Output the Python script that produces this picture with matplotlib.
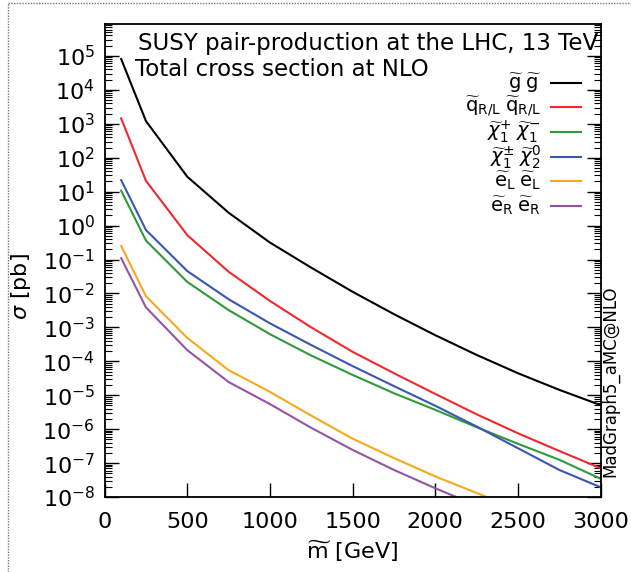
import numpy as np
import matplotlib
matplotlib.use("Agg")
import matplotlib.pyplot as plt
from matplotlib.ticker import LogLocator, NullFormatter, FixedLocator
from matplotlib.lines import Line2D

plt.rcParams['font.family'] = ['DejaVu Sans']
plt.rcParams['mathtext.fontset'] = 'dejavusans'

# masses in GeV
masses = [100, 250, 500, 750, 1000, 1250, 1500, 1750, 2000, 2250, 2500, 2750, 3000]

# log10(sigma / pb)
log_gg = [4.91, 3.08, 1.44, 0.38, -0.50, -1.24, -1.95, -2.61, -3.23, -3.81, -4.35, -4.84, -5.29]
log_qq = [3.16, 1.32, -0.28, -1.36, -2.22, -3.00, -3.72, -4.35, -4.96, -5.56, -6.12, -6.64, -7.15]
log_c1c1 = [1.03, -0.44, -1.66, -2.49, -3.20, -3.83, -4.40, -4.94, -5.43, -5.94, -6.43, -6.90, -7.46]
log_c1n2 = [1.34, -0.13, -1.34, -2.17, -2.88, -3.52, -4.14, -4.73, -5.31, -5.92, -6.56, -7.20, -7.71]
log_eLeL = [-0.60, -2.08, -3.31, -4.26, -4.90, -5.60, -6.28, -6.85, -7.39, -7.88, -8.35]
log_eReR = [-0.96, -2.41, -3.67, -4.61, -5.26, -5.96, -6.61, -7.20, -7.74, -8.25]

labels = [r'$\widetilde{\mathrm{g}}\;\widetilde{\mathrm{g}}$',
          r'$\widetilde{\mathrm{q}}_{\mathrm{R/L}}\;\widetilde{\mathrm{q}}_{\mathrm{R/L}}$',
          r'$\widetilde{\chi}^{+}_{1}\;\widetilde{\chi}^{-}_{1}$',
          r'$\widetilde{\chi}^{\pm}_{1}\;\widetilde{\chi}^{0}_{2}$',
          r'$\widetilde{\mathrm{e}}_{\mathrm{L}}\;\widetilde{\mathrm{e}}_{\mathrm{L}}$',
          r'$\widetilde{\mathrm{e}}_{\mathrm{R}}\;\widetilde{\mathrm{e}}_{\mathrm{R}}$']
series = [log_gg, log_qq, log_c1c1, log_c1n2, log_eLeL, log_eReR]
colors = ['#000000', '#f0282d', '#2e9a3c', '#3a56b0', '#f8a81c', '#9453a6']

fig = plt.figure(figsize=(6.31, 5.72), dpi=100)
ax = fig.add_axes([0.1658, 0.131, 0.786, 0.827])

for vals, c in zip(series, colors):
    ax.plot(masses[:len(vals)], 10.0 ** np.array(vals), color=c, lw=1.5)

ax.set_yscale('log')
ax.set_xlim(0, 3000)
ax.set_ylim(1e-8, 10 ** 5.94)
ax.set_xticks([0, 500, 1000, 1500, 2000, 2500, 3000])
ax.yaxis.set_major_locator(FixedLocator([10.0 ** k for k in range(-8, 6)]))
ax.yaxis.set_minor_locator(LogLocator(base=10, subs=np.arange(2, 10), numticks=50))
ax.yaxis.set_minor_formatter(NullFormatter())
ax.tick_params(axis='y', which='both', direction='in', right=True, labelsize=16, pad=7)
ax.tick_params(axis='y', which='major', length=10, width=1)
ax.tick_params(axis='y', which='minor', length=5, width=0.8)
ax.tick_params(axis='x', which='both', direction='in', top=False, labelsize=16,
               length=10, width=1, pad=11)
for s in ax.spines.values():
    s.set_linewidth(1.3)

ax.set_xlabel(r'$\widetilde{\mathrm{m}}$ [GeV]', fontsize=16, labelpad=5)
ax.set_ylabel(r'$\sigma$ [pb]', fontsize=16)
ax.yaxis.set_label_coords(-0.145, 0.444)

ax.text(0.995, 0.958, 'SUSY pair-production at the LHC, 13 TeV', transform=ax.transAxes,
        ha='right', va='center', fontsize=16.5)
ax.text(0.062, 0.903, 'Total cross section at NLO', transform=ax.transAxes,
        ha='left', va='center', fontsize=16.5)

# legend drawn by hand, gnuplot style
leg_y = [83, 107, 132, 157, 181, 206]
for lab, c, yp in zip(labels, colors, leg_y):
    fy = 1 - yp / 572
    fig.text(541 / 631, fy, lab, ha='right', va='center', fontsize=14)
    fig.add_artist(Line2D([551 / 631, 581 / 631], [fy, fy], color=c, lw=1.5))

fig.text(610 / 631, 1 - 381 / 572, 'MadGraph5_aMC@NLO', rotation=90, ha='center',
         va='center', fontsize=12)

# dotted frame around the figure
fig.add_artist(Line2D([8 / 631, 1.0], [1 - 3 / 572, 1 - 3 / 572], color='#777777',
                      lw=1, ls=(0, (1, 1))))
fig.add_artist(Line2D([8 / 631, 8 / 631], [0, 1 - 3 / 572], color='#777777',
                      lw=1, ls=(0, (1, 1))))

fig.savefig('out.png', dpi=100)
